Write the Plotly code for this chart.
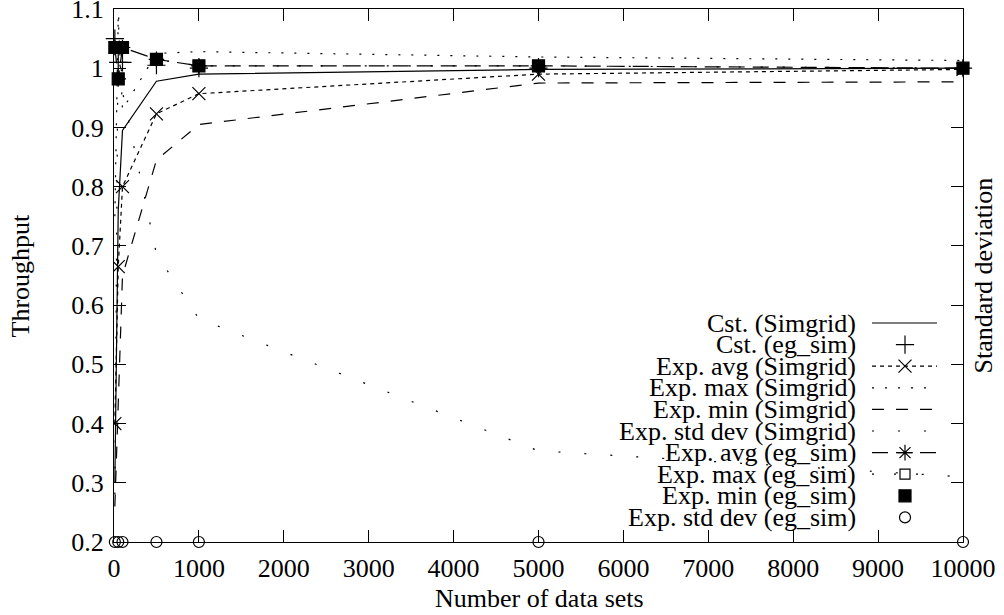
import plotly.graph_objects as go

# ---------------- data ----------------
x_simgrid = [10, 50, 100, 500, 1000, 5000, 10000]
cst_simgrid = [0.30, 0.76, 0.895, 0.978, 0.990, 0.998, 1.000]
avg_simgrid = [0.40, 0.665, 0.800, 0.923, 0.957, 0.990, 0.998]
max_simgrid = [0.75, 1.085, 0.930, 1.025, 1.028, 1.019, 1.013]
min_simgrid = [0.26, 0.45, 0.650, 0.845, 0.905, 0.975, 0.977]
std_simgrid = [0.08, 0.90, 0.760, 0.486, 0.377, 0.154, 0.110]   # right axis

x_egsim = [10, 50, 100, 500, 1000, 5000, 10000]
cst_egsim = [1.050, 1.010, 1.010, 1.005, 1.000, 1.000, 1.000]
avg_egsim = [1.035, 0.982, 1.035, 1.015, 1.004, 1.004, 1.000]
max_egsim = [1.035, 0.982, 1.035, 1.015, 1.004, 1.004, 1.000]
min_egsim = [1.035, 0.982, 1.035, 1.015, 1.004, 1.004, 1.000]
std_egsim = [0.0, 0.0, 0.0, 0.0, 0.0, 0.0, 0.0]                  # right axis

x_ticks = [0, 1000, 2000, 3000, 4000, 5000, 6000, 7000, 8000, 9000, 10000]
x_tick_labels = ["0", "1000", "2000", "3000", "4000", "5000", "6000", "7000", "8000", "9000", "10000"]
y_ticks = [0.2, 0.3, 0.4, 0.5, 0.6, 0.7, 0.8, 0.9, 1.0, 1.1]
y_tick_labels = ["0.2", "0.3", "0.4", "0.5", "0.6", "0.7", "0.8", "0.9", "1", "1.1"]

legend_labels = [
    "Cst. (Simgrid)", "Cst. (eg_sim)", "Exp. avg (Simgrid)", "Exp. max (Simgrid)",
    "Exp. min (Simgrid)", "Exp. std dev (Simgrid)", "Exp. avg (eg_sim)",
    "Exp. max (eg_sim)", "Exp. min (eg_sim)", "Exp. std dev (eg_sim)",
]

FONT = "Liberation Serif"
FS = 26
BLACK = "black"

# style per series: (mode, dash, marker symbol, marker size)
styles = [
    ("lines", "solid", None, 0),
    ("markers", None, "cross-thin-open", 13),
    ("lines+markers", "4px,4px", "x-thin-open", 13),
    ("lines", "2px,11px", None, 0),
    ("lines", "12px,12px", None, 0),
    ("lines", "2px,24px", None, 0),
    ("lines+markers", "16px,8px", "asterisk-open", 13),
    ("lines+markers", "2px,20px", "square-open", 10),
    ("markers", None, "square", 12),
    ("markers", None, "circle-open", 11),
]

series = [
    (x_simgrid, cst_simgrid, "y"),
    (x_egsim, cst_egsim, "y"),
    (x_simgrid, avg_simgrid, "y"),
    (x_simgrid, max_simgrid, "y"),
    (x_simgrid, min_simgrid, "y"),
    (x_simgrid, std_simgrid, "y2"),
    (x_egsim, avg_egsim, "y"),
    (x_egsim, max_egsim, "y"),
    (x_egsim, min_egsim, "y"),
    (x_egsim, std_egsim, "y2"),
]

fig = go.Figure()

for (xs, ys, yax), (mode, dash, sym, size), name in zip(series, styles, legend_labels):
    kw = dict(x=xs, y=ys, mode=mode, name=name, yaxis=yax, showlegend=False)
    if "lines" in mode:
        kw["line"] = dict(color=BLACK, width=1.2, dash=dash)
    if "markers" in mode:
        kw["marker"] = dict(symbol=sym, size=size, color=BLACK,
                            line=dict(color=BLACK, width=1.2))
    if mode == "markers":
        kw["cliponaxis"] = False
    fig.add_trace(go.Scatter(**kw))

# ---------------- geometry ----------------
W, H = 1004, 615
L, T = 114, 9
R = W - 963
B = H - 542
pw, ph = W - L - R, H - T - B

def px_x(p):
    return (p - L) / pw

def px_y(p):
    return (H - B - p) / ph

# ---------------- custom legend (text left, sample right, gnuplot style) ----------------
row0, step = 323, 21.6
text_right = px_x(858)
s0, s1, sm = px_x(872), px_x(937), px_x(905)

for i, ((mode, dash, sym, size), name) in enumerate(zip(styles, legend_labels)):
    yy = px_y(row0 + i * step)
    fig.add_annotation(x=text_right, y=yy, xref="paper", yref="paper", text=name,
                       showarrow=False, xanchor="right", yanchor="middle",
                       font=dict(family=FONT, size=FS, color=BLACK))
    if "lines" in mode:
        fig.add_trace(go.Scatter(x=[s0, s1], y=[yy, yy], mode="lines", xaxis="x2", yaxis="y3",
                                 line=dict(color=BLACK, width=1.2, dash=dash),
                                 showlegend=False, hoverinfo="skip"))
    if "markers" in mode:
        fig.add_trace(go.Scatter(x=[sm], y=[yy], mode="markers", xaxis="x2", yaxis="y3",
                                 marker=dict(symbol=sym, size=size, color=BLACK,
                                             line=dict(color=BLACK, width=1.2)),
                                 showlegend=False, hoverinfo="skip"))

axis_common = dict(showline=True, linecolor=BLACK, linewidth=1, mirror="ticks",
                   ticks="inside", ticklen=12, tickwidth=1, tickcolor=BLACK,
                   showgrid=False, zeroline=False, automargin=False,
                   ticklabeloverflow="allow",
                   tickfont=dict(family=FONT, size=FS, color=BLACK))

fig.update_layout(
    width=W, height=H,
    margin=dict(l=L, r=R, t=T, b=B),
    paper_bgcolor="white", plot_bgcolor="white",
    font=dict(family=FONT, size=FS, color=BLACK),
    xaxis=dict(range=[0, 10000.001], tickvals=x_ticks, ticktext=x_tick_labels,
               ticklabelstandoff=3, **axis_common),
    yaxis=dict(range=[0.2, 1.1000001], tickvals=y_ticks, ticktext=y_tick_labels,
               ticklabelstandoff=4, **axis_common),
    yaxis2=dict(range=[0, 0.9], overlaying="y", side="right", showline=False,
                showticklabels=False, ticks="", showgrid=False, zeroline=False,
                automargin=False),
    xaxis2=dict(range=[0, 1], overlaying="x", visible=False),
    yaxis3=dict(range=[0, 1], overlaying="y", visible=False),
    showlegend=False,
)

# axis titles
fig.add_annotation(x=px_x(539), y=px_y(598), xref="paper", yref="paper", text="Number of data sets",
                   showarrow=False, xanchor="center", yanchor="middle",
                   font=dict(family=FONT, size=FS, color=BLACK))
fig.add_annotation(x=px_x(20), y=0.5, xref="paper", yref="paper", text="Throughput",
                   showarrow=False, textangle=-90, xanchor="center", yanchor="middle",
                   font=dict(family=FONT, size=FS, color=BLACK))
fig.add_annotation(x=px_x(983), y=0.5, xref="paper", yref="paper", text="Standard deviation",
                   showarrow=False, textangle=-90, xanchor="center", yanchor="middle",
                   font=dict(family=FONT, size=FS, color=BLACK))

fig.write_html("out.html", config={"displayModeBar": False},
               post_script="document.body.style.margin='0';")
